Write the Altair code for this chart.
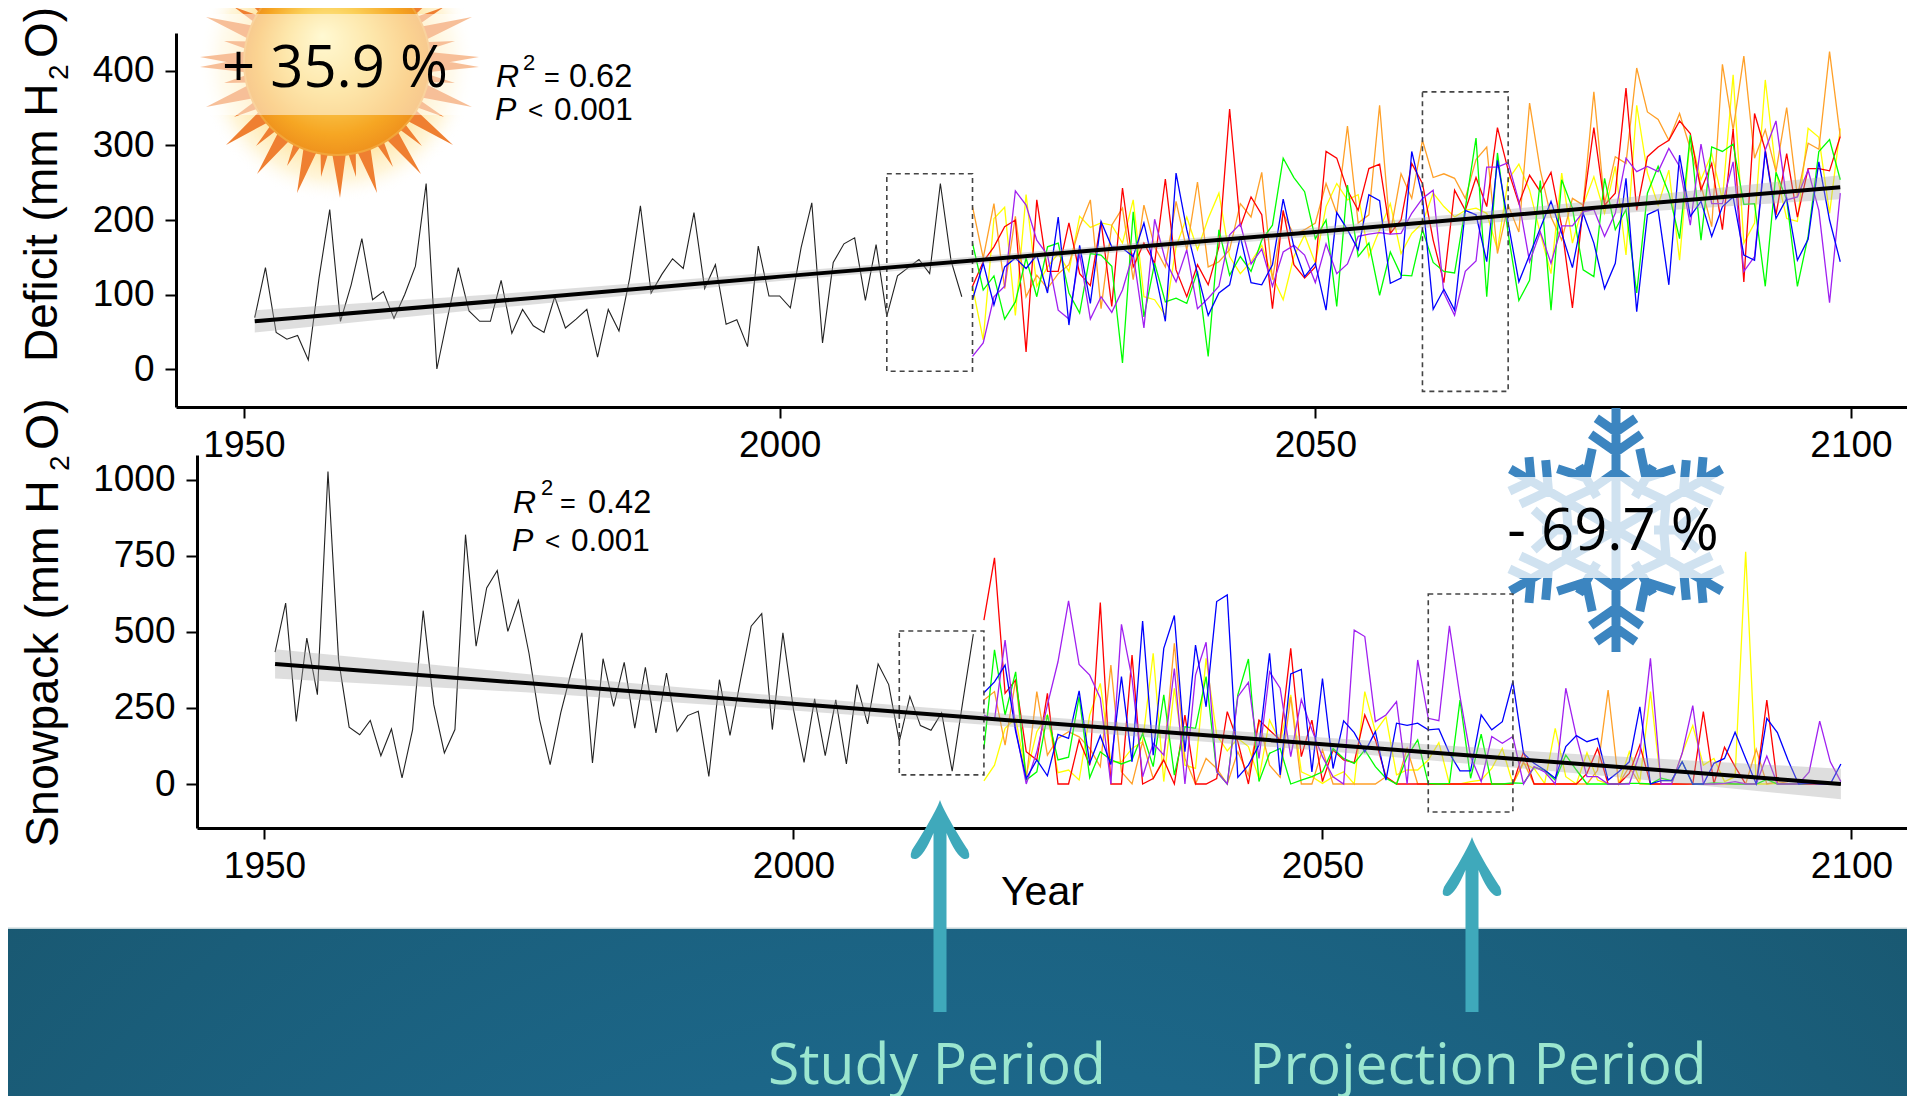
import math
import altair as alt
import pandas as pd

# ---------- data ----------
HIST_YEARS = list(range(1951, 2018))
PROJ_YEARS = list(range(2018, 2100))
TICK_YEARS = [1950, 2000, 2050, 2100]
DEFICIT_TICKS = [0, 100, 200, 300, 400]
SNOW_TICKS = [0, 250, 500, 750, 1000]

DEFICIT_HIST = [69,136,49,40,45,12,122,214,64,113,175,93,104,68,100,138,249,0,69,136,
                78,64,64,119,48,80,58,49,97,55,67,80,16,80,51,122,219,102,127,148,
                135,210,108,140,60,66,30,165,98,98,82,163,223,35,143,168,176,92,167,71,
                125,136,147,128,249,145,97]
SNOW_HIST = [434,595,206,480,294,1028,409,187,162,209,93,181,20,179,570,261,102,179,820,453,
             645,702,502,604,430,212,64,234,370,497,69,412,255,400,184,384,168,365,173,225,
             239,25,343,160,343,519,560,179,497,245,71,280,93,277,66,327,198,395,327,140,
             288,192,177,234,42,270,493]

DEFICIT_YELLOW = [111,39,202,217,72,234,111,137,155,131,205,190,196,193,169,227,97,93,72,164,204,160,202,236,151,128,144,166,
                  124,93,151,180,142,218,249,227,234,151,187,222,155,182,196,236,218,204,213,216,209,160,254,275,240,182,128,
                  263,169,220,258,209,272,153,354,263,220,267,146,312,254,289,227,395,169,196,388,265,202,198,323,311,209,323]
DEFICIT_ORANGE = [218,149,222,108,205,97,126,108,128,140,191,227,81,193,216,120,220,164,137,225,160,251,137,144,160,222,204,264,
                  120,209,180,187,196,249,209,326,196,207,354,182,262,229,307,257,262,256,229,281,298,155,220,184,357,267,204,
                  173,229,220,372,222,285,276,404,345,335,307,343,296,247,191,409,321,420,283,321,265,351,231,303,295,426,312]
DEFICIT_RED = [111,144,164,191,200,23,227,131,131,196,128,112,198,84,243,137,169,142,255,133,97,140,113,164,349,191,231,207,
               81,213,140,122,137,292,283,240,213,269,275,182,200,276,249,173,116,240,213,257,218,324,267,222,260,238,264,
               191,82,218,324,220,236,377,213,285,298,307,333,316,240,276,187,322,117,343,294,207,289,204,269,269,266,312]
DEFICIT_GREEN = [169,106,125,67,90,149,97,164,169,102,75,155,153,138,8,211,70,142,90,95,88,131,17,187,126,151,131,173,
                 193,283,257,238,175,200,84,247,151,169,99,157,126,125,187,143,131,129,216,310,97,290,182,92,119,253,79,
                 254,216,133,124,256,187,214,102,236,272,236,175,314,173,298,292,302,221,222,111,264,227,111,178,292,308,254]
DEFICIT_PURPLE = [17,35,97,111,239,220,173,153,79,67,155,67,97,76,106,155,55,201,146,117,160,81,95,111,180,195,141,161,
                  111,157,166,153,116,168,128,141,178,181,183,181,182,209,229,240,102,72,131,145,271,271,277,225,144,184,142,
                  192,192,211,214,178,209,283,265,272,265,296,272,193,302,222,222,278,131,151,294,333,227,231,267,213,89,236]
DEFICIT_BLUE = [93,142,86,137,149,135,153,102,204,59,166,88,198,164,162,151,196,133,64,263,187,128,72,102,113,178,116,113,
                140,228,164,124,142,79,210,187,160,234,226,115,122,292,231,80,107,79,213,207,144,280,196,117,153,189,225,
                182,136,209,169,108,142,256,77,207,214,113,287,205,225,178,218,231,153,146,292,202,229,146,174,278,200,144]

SNOW_YELLOW = [10,62,183,216,29,172,227,37,46,13,227,331,73,73,117,139,430,8,315,62,51,413,161,109,150,123,18,210,
               139,293,40,24,2,24,40,0,304,172,221,30,46,46,79,136,0,0,8,13,51,117,0,68,51,2,183,
               24,0,103,13,0,0,106,8,304,0,0,101,192,62,84,8,24,764,0,0,2,0,0,0,0,0,0]
SNOW_ORANGE = [276,304,128,342,18,304,95,150,172,155,117,57,391,40,0,139,18,84,463,84,0,84,51,0,106,29,210,62,
               22,287,0,0,112,0,0,0,0,0,24,0,117,0,0,0,0,0,0,0,0,0,0,73,0,0,0,
               0,0,0,45,309,0,57,0,0,0,0,0,0,0,0,0,0,0,114,0,8,2,0,0,0,0,0]
SNOW_RED = [539,744,298,342,106,79,298,0,0,145,62,597,0,0,424,0,18,79,0,227,0,0,18,238,139,0,210,177,
            145,446,90,210,8,112,79,70,227,145,24,0,0,0,0,0,0,0,0,0,0,0,0,106,0,0,0,
            0,0,35,117,0,0,35,128,0,0,0,0,0,238,0,121,57,0,0,276,0,0,0,0,0,0,0]
SNOW_GREEN = [117,441,227,369,13,40,227,79,88,287,21,106,79,66,79,166,57,293,29,188,183,353,40,0,293,411,8,101,
              117,0,13,24,40,117,84,68,112,57,19,0,90,145,2,0,2,276,19,164,0,0,4,2,55,46,13,
              95,46,0,0,0,0,2,2,0,19,11,73,0,0,4,2,0,0,0,15,0,0,0,2,2,2,0]
SNOW_PURPLE = [227,210,473,183,0,106,260,402,602,393,358,282,0,525,347,24,134,95,380,0,358,466,40,0,287,334,84,369,
               315,90,278,178,90,24,0,506,485,205,227,271,0,408,216,208,520,287,90,8,156,134,156,0,57,40,0,
               315,156,24,24,0,0,0,101,413,0,0,101,258,0,0,2,8,0,0,92,0,0,0,40,207,73,8]
SNOW_BLUE = [300,336,391,172,18,79,27,163,150,306,68,159,64,353,73,536,95,446,554,106,457,254,600,622,22,62,128,430,
             30,362,377,40,347,51,208,169,106,172,13,200,193,200,178,181,101,43,43,227,178,205,337,101,68,46,19,
             123,159,139,150,13,40,73,254,0,11,11,73,0,0,68,84,170,84,0,216,169,79,0,2,0,0,66]

TREND_YEARS = [1951, 1975, 2000, 2025, 2050, 2075, 2099]
DEFICIT_TREND = [64, 93, 124, 154, 184, 215, 244]
DEFICIT_LOW = [49, 84, 118, 149, 178, 206, 228]
DEFICIT_HIGH = [79, 102, 130, 159, 190, 224, 260]
SNOW_TREND = [395, 331, 264, 197, 131, 64, 0]
SNOW_LOW = [347, 301, 242, 177, 109, 32, -50]
SNOW_HIGH = [443, 361, 286, 217, 153, 96, 50]

DEFICIT_BOXES = {"x": [2010, 2060], "x2": [2018, 2068], "y": [-3, -30], "y2": [262, 372]}
SNOW_BOXES = {"x": [2010, 2060], "x2": [2018, 2068], "y": [30, -92], "y2": [503, 625]}

SERIES_COLORS = ["#ffff00", "#ffa028", "#ff0000", "#00ff00", "#a020f0", "#0000ff"]

for s in (DEFICIT_YELLOW, DEFICIT_ORANGE, DEFICIT_RED, DEFICIT_GREEN, DEFICIT_PURPLE, DEFICIT_BLUE,
          SNOW_YELLOW, SNOW_ORANGE, SNOW_RED, SNOW_GREEN, SNOW_PURPLE, SNOW_BLUE):
    assert len(s) == len(PROJ_YEARS), len(s)

# ---------- scales: each panel maps its data onto its part of the page ----------
M = 8  # page margin
PAGE_W, PAGE_H = 1915 - M, 1096  # the chart can reach the right margin, but the bottom edge
W, H = PAGE_W - M, PAGE_H - M
FONT = "Liberation Sans"
PANELS = {
    "deficit": dict(xd=[1943.65, 2105.23], xr=[176 - M, W], yd=[-51, 451], yr=[407 - M, 33 - M],
                    ticks=DEFICIT_TICKS, left=176 - M, bottom=407 - M),
    "snow": dict(xd=[1943.62, 2105.25], xr=[197 - M, W], yd=[-144.7, 1082], yr=[828 - M, 455 - M],
                 ticks=SNOW_TICKS, left=197 - M, bottom=828 - M),
}


def axes(p):
    common = dict(domainColor="black", domainWidth=3, tickColor="black", tickWidth=2, tickSize=11,
                  labelFont=FONT, labelFontSize=37, labelColor="black", grid=False, title=None,
                  labelOverlap=False, labelFlush=False, labelBound=False, format="d")
    xa = alt.Axis(orient="bottom", offset=p["bottom"] - H, values=TICK_YEARS, labelPadding=9, **common)
    ya = alt.Axis(orient="left", offset=-p["left"], values=p["ticks"], labelPadding=11, **common)
    return xa, ya


def enc(panel, with_axis=False):
    p = PANELS[panel]
    xa, ya = axes(p) if with_axis else (None, None)
    return dict(
        x=alt.X("x:Q", scale=alt.Scale(domain=p["xd"], range=p["xr"], nice=False, zero=False), axis=xa),
        y=alt.Y("y:Q", scale=alt.Scale(domain=p["yd"], range=p["yr"], nice=False, zero=False), axis=ya),
    )


# page coordinates of the reference, mapped past the page margin
PX = dict(
    x=alt.X("x:Q", scale=alt.Scale(domain=[M, PAGE_W], range=[0, W], nice=False, zero=False), axis=None),
    y=alt.Y("y:Q", scale=alt.Scale(domain=[M, PAGE_H], range=[0, H], nice=False, zero=False), axis=None),
)


def line(panel, xs, ys, color, width, axis=False):
    df = pd.DataFrame({"x": xs, "y": ys})
    return alt.Chart(df).mark_line(color=color, strokeWidth=width, interpolate="linear").encode(
        **enc(panel, axis), order=alt.Order("x:Q"))


def ribbon(panel, xs, lo, hi):
    df = pd.DataFrame({"x": xs, "y": lo, "y2": hi})
    return alt.Chart(df).mark_area(color="#a8a8a8", opacity=0.38).encode(**enc(panel), y2="y2:Q")


def boxes(panel, b):
    df = pd.DataFrame(b)
    return alt.Chart(df).mark_rect(fillOpacity=0, stroke="#444444", strokeWidth=1.6, strokeDash=[5, 4]).encode(
        **enc(panel), x2="x2:Q", y2="y2:Q")


def px_rect(x, y, x2, y2, **mark):
    df = pd.DataFrame({"x": [x], "y": [y], "x2": [x2], "y2": [y2]})
    return alt.Chart(df).mark_rect(**mark).encode(**PX, x2="x2:Q", y2="y2:Q")


def px_shape(x, y, shape, **mark):
    df = pd.DataFrame({"x": [x], "y": [y]})
    return alt.Chart(df).mark_point(shape=shape, opacity=1, **mark).encode(**PX)


def label(s, x, y, size, color="black", font=FONT, italic=False, angle=None, align="left"):
    df = pd.DataFrame({"x": [x], "y": [y], "t": [s]})
    kw = dict(align=align, baseline="alphabetic", fontSize=size, color=color, font=font)
    if italic:
        kw["fontStyle"] = "italic"
    if angle is not None:
        kw["angle"] = angle
    return alt.Chart(df).mark_text(**kw).encode(**PX, text="t:N")


# ---------- pictures drawn from simple geometry ----------
def star_path():
    # ray tips as offsets from the sun's centre, mirrored up/down
    long_tips = [(3, 136), (-40, 131), (40, 131), (-80, 112), (84, 112), (-111, 83), (116, 83),
                 (-131, 45), (135, 45), (-137, 5), (142, 5)]
    short_tips = [(-16, 115), (19, 115), (-50, 104), (56, 105), (-81, 84), (85, 84),
                  (-103, 55), (107, 55), (-113, 21), (118, 21)]
    parts = []
    for tips, half in ((long_tips, 0.085), (short_tips, 0.05)):
        for dx, dy in tips:
            for sy in (1, -1):
                a = math.atan2(sy * dy, dx)
                b1 = (88 * math.cos(a - half), 88 * math.sin(a - half))
                b2 = (88 * math.cos(a + half), 88 * math.sin(a + half))
                parts.append(f"M{b1[0]:.1f},{b1[1]:.1f}L{dx:.1f},{sy * dy:.1f}L{b2[0]:.1f},{b2[1]:.1f}Z")
    return "".join(parts)


def flake_path():
    seg = []

    def add(r0, r1, ang, ox=0.0, oy=0.0):
        c, s = math.cos(ang), math.sin(ang)
        seg.append(f"M{ox + r0 * c:.1f},{oy + r0 * s:.1f}L{ox + r1 * c:.1f},{oy + r1 * s:.1f}")

    for k in range(6):
        a = math.radians(90 + 60 * k)
        add(0, 122, a)
        for r, ln in ((78, 31), (98, 24)):
            ox, oy = r * math.cos(a), r * math.sin(a)
            add(0, ln, a + math.radians(55), ox, oy)
            add(0, ln, a - math.radians(55), ox, oy)
        ox, oy = 58 * math.cos(a), 58 * math.sin(a)
        add(0, 26, a + math.radians(125), ox, oy)
        add(0, 26, a - math.radians(125), ox, oy)
        b = a + math.radians(30)
        add(38, 74, b)
        ox, oy = 60 * math.cos(b), 60 * math.sin(b)
        add(0, 30, b + math.radians(42), ox, oy)
        add(0, 30, b - math.radians(42), ox, oy)
    return "".join(seg)


def arrow_path(length):
    return (f"M0,0C3,10 20,38 28,50Q32,60 24,59Q16,56 6.5,33L6.5,{length}L-6.5,{length}"
            "L-6.5,33Q-16,56 -24,59Q-32,60 -28,50C-20,38 -3,10 0,0Z")


def stops(*pairs):
    return [{"color": c, "offset": o} for c, o in pairs]


TEAL_GRAD = {"gradient": "radial", "x1": 0.5, "y1": 0.95, "r1": 0, "x2": 0.5, "y2": 0.95, "r2": 0.72,
             "stops": stops(("#22769f", 0), ("#1d6b90", 0.45), ("#195871", 1))}
SUN_GRAD = {"gradient": "radial", "x1": 0.42, "y1": 0.36, "r1": 0, "x2": 0.5, "y2": 0.5, "r2": 0.52,
            "stops": stops(("#fff3a6", 0), ("#fbcf58", 0.45), ("#f6a623", 0.8), ("#ee8f1c", 1))}
GLOW_GRAD = {"gradient": "radial", "x1": 0.5, "y1": 0.5, "r1": 0.3, "x2": 0.5, "y2": 0.5, "r2": 0.5,
             "stops": stops(("rgba(255,214,110,0.75)", 0), ("rgba(255,228,150,0.35)", 0.6), ("rgba(255,255,255,0)", 1))}

layers = [
    px_rect(M, 928, PAGE_W, PAGE_H, fill=TEAL_GRAD),
    px_rect(M, 927.5, PAGE_W, 929, fill="#c4d4d8"),
    px_shape(337, 62, "circle", size=78000, filled=True, fill=GLOW_GRAD, strokeWidth=0),
    px_shape(337, 62, star_path(), size=4, filled=True, fill="#ef7f31", strokeWidth=0),
    px_shape(337, 62, "circle", size=34600, filled=True, fill=SUN_GRAD, stroke="#f2a53a", strokeWidth=2),
    px_rect(196, 14, 490, 115, fill="white", opacity=0.5),
    px_shape(1616, 530, flake_path(), size=4, filled=False, stroke="#3c85c0", strokeWidth=9),
    px_rect(1500, 477, 1733, 578, fill="white", opacity=0.76),
]

for panel, hist, proj, years, low, high, trend, box in (
    ("deficit", DEFICIT_HIST,
     [DEFICIT_YELLOW, DEFICIT_ORANGE, DEFICIT_RED, DEFICIT_GREEN, DEFICIT_PURPLE, DEFICIT_BLUE],
     TREND_YEARS, DEFICIT_LOW, DEFICIT_HIGH, DEFICIT_TREND, DEFICIT_BOXES),
    ("snow", SNOW_HIST,
     [SNOW_YELLOW, SNOW_ORANGE, SNOW_RED, SNOW_GREEN, SNOW_PURPLE, SNOW_BLUE],
     TREND_YEARS, SNOW_LOW, SNOW_HIGH, SNOW_TREND, SNOW_BOXES),
):
    layers.append(line(panel, HIST_YEARS, hist, "#222222", 1.1))
    for values, color in zip(proj, SERIES_COLORS):
        layers.append(line(panel, PROJ_YEARS, values, color, 1.3))
    layers.append(ribbon(panel, years, low, high))
    layers.append(boxes(panel, box))
    layers.append(line(panel, years, trend, "black", 4, axis=True))

layers += [
    # axis titles with their subscripts
    label("Deficit (mm H", 57, 362, 46, angle=270),
    label("2", 68, 80, 28, angle=270),
    label("O)", 57, 58, 46, angle=270),
    label("Snowpack (mm H", 58, 847, 46.5, angle=270),
    label("2", 69, 471, 28, angle=270),
    label("O)", 58, 450, 46.5, angle=270),
    label("Year", 1001, 905, 41),
    # fit statistics
    label("R", 496, 87, 32, italic=True),
    label("2", 523, 70, 22),
    label("=", 544, 87, 27),
    label("0.62", 569, 87, 32.5),
    label("P", 495, 120, 32, italic=True),
    label("<", 528, 119, 26),
    label("0.001", 554, 120, 31.5),
    label("R", 513, 513, 32, italic=True),
    label("2", 541, 495, 22),
    label("=", 560, 513, 27),
    label("0.42", 588, 513, 32.5),
    label("P", 512, 551, 32, italic=True),
    label("<", 545, 550, 26),
    label("0.001", 571, 551, 31.5),
    # callouts
    label("+ 35.9 %", 335, 87, 58, font="Open Sans", align="center"),
    label("- 69.7 %", 1613, 550, 58, font="Open Sans", align="center"),
    px_shape(940, 800, arrow_path(212), size=4, filled=True, fill="#3fa9bb", strokeWidth=0),
    px_shape(1472, 837, arrow_path(175), size=4, filled=True, fill="#3fa9bb", strokeWidth=0),
    label("Study Period", 937, 1084, 57, color="#9be6cf", font="Open Sans", align="center"),
    label("Projection Period", 1478, 1084, 57, color="#9be6cf", font="Open Sans", align="center"),
]

chart = (
    alt.layer(*layers)
    .resolve_scale(x="independent", y="independent")
    .properties(
        width=W,
        height=H,
        padding=0,
        autosize=alt.AutoSizeParams(type="none"),
        background="white",
    )
    .configure_view(strokeWidth=0)
)

chart.save("out.html", embed_options={"renderer": "svg", "actions": False})
